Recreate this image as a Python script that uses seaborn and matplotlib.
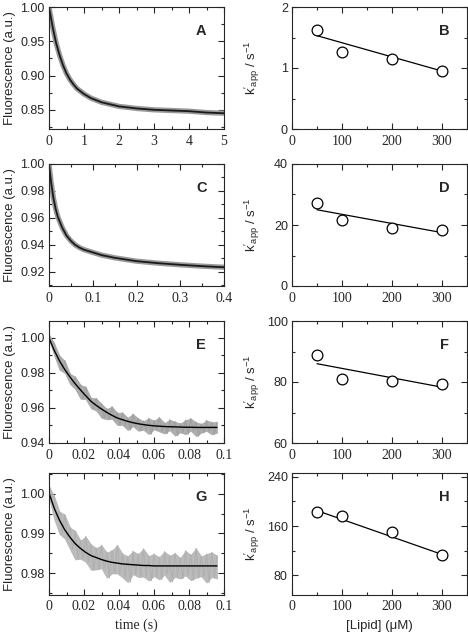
import numpy as np
import pandas as pd
import matplotlib
matplotlib.use("Agg")
import matplotlib.pyplot as plt
from matplotlib.ticker import MultipleLocator, FuncFormatter, FormatStrFormatter
import seaborn as sns

sns.set_style("ticks")
plt.rcParams['font.family'] = ['Liberation Sans', 'DejaVu Sans']
plt.rcParams['mathtext.fontset'] = 'custom'
plt.rcParams['mathtext.rm'] = 'Liberation Sans'
plt.rcParams['mathtext.it'] = 'Liberation Sans:italic'
plt.rcParams['axes.linewidth'] = 0.8

############### stopped-flow traces (left column) ###############
# panel A
time_a = [0, 0.1, 0.2, 0.3, 0.4, 0.5, 0.6, 0.7, 0.8, 1.0, 1.2, 1.5, 2.0, 2.5, 3.0, 3.5, 4.0, 4.5, 5.0]
fit_a = [1.000, 0.972, 0.948, 0.930, 0.915, 0.903, 0.894, 0.887, 0.881, 0.873, 0.867, 0.861,
         0.855, 0.852, 0.850, 0.849, 0.848, 0.846, 0.845]

# panel C
time_c = [0, 0.005, 0.01, 0.015, 0.02, 0.025, 0.03, 0.04, 0.05, 0.06, 0.07, 0.08, 0.1,
          0.12, 0.15, 0.2, 0.25, 0.3, 0.35, 0.4]
fit_c = [1.000, 0.986, 0.975, 0.967, 0.961, 0.957, 0.953, 0.947, 0.943, 0.940, 0.938, 0.9365,
         0.9345, 0.9325, 0.9305, 0.928, 0.9265, 0.9253, 0.9243, 0.9235]

# panels E and G share the time grid (noisy data given as upper / lower excursions)
time_eg = [0, 0.003, 0.006, 0.009, 0.012, 0.015, 0.018, 0.021, 0.024, 0.027, 0.030, 0.033,
           0.036, 0.039, 0.042, 0.045, 0.048, 0.051, 0.054, 0.057, 0.060, 0.063, 0.066,
           0.069, 0.072, 0.075, 0.078, 0.081, 0.084, 0.087, 0.090, 0.093, 0.096]
fit_e = [1.000, 0.9929, 0.9869, 0.9820, 0.9777, 0.9738, 0.9703, 0.9670, 0.9638, 0.9615,
         0.9594, 0.9575, 0.9558, 0.9543, 0.9533, 0.9524, 0.9516, 0.9510, 0.9505, 0.9501,
         0.9498, 0.9496, 0.9494, 0.9493, 0.9492, 0.9491, 0.9490, 0.9490, 0.9489, 0.9489,
         0.9489, 0.9489, 0.9489]
data_e_hi = [1.002, 0.9969, 0.9899, 0.9870, 0.9797, 0.9778, 0.9733, 0.9720, 0.9658, 0.9655,
             0.9624, 0.9595, 0.9608, 0.9573, 0.9573, 0.9544, 0.9566, 0.9540, 0.9525, 0.9541,
             0.9528, 0.9546, 0.9514, 0.9533, 0.9522, 0.9511, 0.9530, 0.9540, 0.9519, 0.9509,
             0.9529, 0.9519, 0.9519]
data_e_lo = [0.999, 0.9899, 0.9819, 0.9800, 0.9737, 0.9708, 0.9653, 0.9650, 0.9598, 0.9585,
             0.9544, 0.9535, 0.9538, 0.9503, 0.9503, 0.9474, 0.9496, 0.9470, 0.9475, 0.9451,
             0.9478, 0.9466, 0.9454, 0.9473, 0.9442, 0.9461, 0.9450, 0.9470, 0.9439, 0.9459,
             0.9469, 0.9449, 0.9459]

fit_g = [1.0002, 0.9963, 0.9933, 0.9909, 0.9890, 0.9874, 0.9862, 0.9852, 0.9844, 0.9839,
         0.9834, 0.9830, 0.9827, 0.9825, 0.9823, 0.9822, 0.9821, 0.9820, 0.9819, 0.9819,
         0.9818, 0.9818, 0.9818, 0.9818, 0.9818, 0.9818, 0.9818, 0.9818, 0.9818, 0.9818,
         0.9818, 0.9818, 0.9818]
data_g_hi = [1.0020, 0.9993, 0.9955, 0.9947, 0.9915, 0.9906, 0.9882, 0.9892, 0.9872, 0.9863,
             0.9870, 0.9852, 0.9857, 0.9870, 0.9849, 0.9842, 0.9855, 0.9848, 0.9861, 0.9843,
             0.9848, 0.9840, 0.9854, 0.9844, 0.9850, 0.9838, 0.9856, 0.9846, 0.9862, 0.9842,
             0.9848, 0.9852, 0.9844]
data_g_lo = [0.9990, 0.9935, 0.9898, 0.9887, 0.9860, 0.9834, 0.9836, 0.9828, 0.9808, 0.9809,
             0.9812, 0.9788, 0.9799, 0.9799, 0.9789, 0.9777, 0.9797, 0.9790, 0.9791, 0.9781,
             0.9792, 0.9784, 0.9796, 0.9778, 0.9790, 0.9786, 0.9794, 0.9782, 0.9788, 0.9792,
             0.9776, 0.9790, 0.9786]

############### k'app vs lipid (right column) ###############
lipid = [50, 100, 200, 300]
k_b = [1.63, 1.26, 1.15, 0.95]
k_d = [27.1, 21.7, 19.1, 18.2]
k_f = [88.9, 81.1, 80.2, 79.3]
k_h = [182, 176, 150, 113]
fit_x = [50, 300]
fit_b = [1.53, 0.95]
fit_d = [25.0, 17.5]
fit_f = [86.0, 78.3]
fit_h = [185, 114]

fig = plt.figure(figsize=(4.68, 6.36), dpi=100)
W, H = 468.0, 636.0
rows = [(7, 129), (164, 286), (321, 443), (473, 594.5)]
left_x, right_x, ax_w = 49, 292, 175

def make_ax(x0, top, bottom):
    return fig.add_axes([x0 / W, 1 - bottom / H, ax_w / W, (bottom - top) / H])

def style(ax, xmaj, xmin, ymaj, ymin, xlim, ylim, yfmt, letter):
    ax.set_xlim(*xlim)
    ax.set_ylim(*ylim)
    ax.xaxis.set_major_locator(MultipleLocator(xmaj))
    ax.xaxis.set_minor_locator(MultipleLocator(xmin))
    ax.yaxis.set_major_locator(MultipleLocator(ymaj))
    ax.yaxis.set_minor_locator(MultipleLocator(ymin))
    ax.xaxis.set_major_formatter(FuncFormatter(lambda v, p: '%g' % round(v, 6)))
    ax.yaxis.set_major_formatter(FormatStrFormatter(yfmt))
    ax.tick_params(which='both', direction='in', top=True, right=True, width=0.8)
    ax.tick_params(which='major', length=4)
    ax.tick_params(which='minor', length=2)
    ax.tick_params(axis='x', labelsize=10, labelfontfamily='Liberation Serif', pad=4)
    ax.tick_params(axis='y', labelsize=9, pad=3)
    for lbl in ax.get_xticklabels():
        lbl.set_fontfamily('Liberation Serif')
    ax.set_xlabel('')
    ax.set_ylabel('')
    ax.text(0.87, 0.80, letter, transform=ax.transAxes, fontsize=10.5,
            fontweight='bold', ha='center', va='center')

def trace_panel(ax, t, fit, lw_gray=None, hi=None, lo=None, gray='#9a9a9a'):
    if hi is not None:
        ax.fill_between(t, lo, hi, color=gray, lw=0.5, edgecolor=gray, alpha=0.85)
        # raw trace jumps between the upper and lower excursions
        t_arr = np.asarray(t)
        t_half = t_arr + 0.0015
        zig_x = np.ravel(np.column_stack([t_arr, t_half]))[:-1]
        zig_y = np.ravel(np.column_stack([hi, lo]))[:-1]
        ax.plot(zig_x, zig_y, color=gray, lw=0.8)
        sns.lineplot(x=t, y=fit, ax=ax, color='black', lw=1.0)
    else:
        sns.lineplot(x=t, y=fit, ax=ax, color=gray, lw=lw_gray)
        sns.lineplot(x=t, y=fit, ax=ax, color='#1a1a1a', lw=1.3)

def k_panel(ax, k, fit):
    sns.lineplot(x=fit_x, y=fit, ax=ax, color='black', lw=0.9)
    sns.scatterplot(x=lipid, y=k, ax=ax, s=60, facecolor='white', edgecolor='black',
                    linewidth=0.9, zorder=3)

axA = make_ax(left_x, *rows[0])
trace_panel(axA, time_a, fit_a, lw_gray=3.8)
style(axA, 1, 0.5, 0.05, 0.025, (0, 5), (0.822, 1.0), '%.2f', 'A')

axC = make_ax(left_x, *rows[1])
trace_panel(axC, time_c, fit_c, lw_gray=3.8)
style(axC, 0.1, 0.05, 0.02, 0.01, (0, 0.4), (0.9096, 1.0), '%.2f', 'C')

axE = make_ax(left_x, *rows[2])
trace_panel(axE, time_eg, fit_e, hi=data_e_hi, lo=data_e_lo, gray='#a0a0a0')
style(axE, 0.02, 0.01, 0.02, 0.01, (0, 0.1), (0.94, 1.0097), '%.2f', 'E')

axG = make_ax(left_x, *rows[3])
trace_panel(axG, time_eg, fit_g, hi=data_g_hi, lo=data_g_lo, gray='#b0b0b0')
style(axG, 0.02, 0.01, 0.01, 0.005, (0, 0.1), (0.9746, 1.0052), '%.2f', 'G')

axB = make_ax(right_x, *rows[0])
k_panel(axB, k_b, fit_b)
style(axB, 100, 50, 1, 0.5, (0, 350), (0, 2), '%d', 'B')

axD = make_ax(right_x, *rows[1])
k_panel(axD, k_d, fit_d)
style(axD, 100, 50, 20, 10, (0, 350), (0, 40), '%d', 'D')

axF = make_ax(right_x, *rows[2])
k_panel(axF, k_f, fit_f)
style(axF, 100, 50, 20, 10, (0, 350), (60, 100), '%d', 'F')

axH = make_ax(right_x, *rows[3])
k_panel(axH, k_h, fit_h)
style(axH, 100, 50, 80, 40, (0, 350), (49, 246), '%d', 'H')

for ax in (axA, axC, axE, axG):
    ax.set_ylabel('Fluorescence (a.u.)', fontsize=9.5)
    ax.yaxis.set_label_coords(-0.19, 0.5)
for ax in (axB, axD, axF, axH):
    ax.set_ylabel(r"$\mathrm{k'_{app}}$ / s$^{\mathrm{-1}}$", fontsize=9.5)
    ax.yaxis.set_label_coords(-0.17, 0.5)

axG.set_xlabel('time (s)', fontsize=10, family='Liberation Serif')
axG.xaxis.set_label_coords(0.5, -0.2)
axH.set_xlabel('[Lipid] (\u03bcM)', fontsize=9.5)
axH.xaxis.set_label_coords(0.5, -0.21)

fig.savefig('out.png', dpi=100)
